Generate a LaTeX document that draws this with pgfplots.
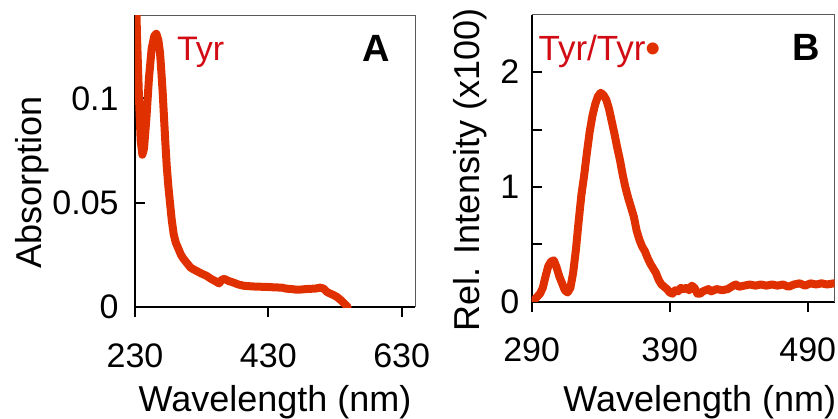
\documentclass[border=0pt]{standalone}
\usepackage{fontspec}
\setmainfont{Liberation Sans}
\usepackage{pgfplots}
\pgfplotsset{compat=1.18}
\definecolor{curve}{RGB}{224,48,0}
\definecolor{lab}{RGB}{210,12,20}

\pgfplotstableread{
x y
230 0.170
233 0.130
236 0.100
238.5 0.080
241 0.073
243.5 0.076
247 0.090
251 0.110
255 0.124
259 0.130
262 0.131
265 0.128
267.5 0.122
269.5 0.113
271.5 0.103
273.5 0.091
275.5 0.079
277.5 0.068
280 0.058
282.5 0.050
285 0.042
288 0.035
291 0.031
295 0.028
299 0.025
303 0.023
308 0.021
313 0.019
318 0.018
324 0.017
330 0.016
337 0.015
344 0.0135
350 0.0125
356 0.0113
360 0.0130
364 0.0135
370 0.0125
377 0.0118
385 0.0108
393 0.0102
400 0.0100
410 0.0098
420 0.0097
430 0.0096
440 0.0094
450 0.0093
457 0.0088
465 0.0086
472 0.0083
480 0.0084
490 0.0087
500 0.0088
508 0.0093
513 0.0088
518 0.0072
523 0.0064
528 0.0057
533 0.0048
538 0.0035
543 0.0020
549 0.0000
}\absdata

\pgfplotstableread{
x y
291 0.00
293 0.03
296 0.07
298 0.12
300 0.22
302 0.31
304 0.35
306 0.36
308 0.30
310 0.22
312 0.16
314 0.10
316 0.08
318 0.12
320 0.25
322 0.45
324 0.70
326 0.93
328 1.10
330 1.30
332 1.48
334 1.62
336 1.72
338 1.79
340 1.82
342 1.80
344 1.76
346 1.68
348 1.57
350 1.46
352 1.34
354 1.23
356 1.10
358 0.99
360 0.90
362 0.82
364 0.74
366 0.62
368 0.54
370 0.48
372 0.44
374 0.38
376 0.33
378 0.29
380 0.25
382 0.19
384 0.15
386 0.13
388 0.11
390 0.08
392 0.07
394 0.10
396 0.09
398 0.12
400 0.11
402 0.12
404 0.10
406 0.14
408 0.12
410 0.07
412 0.07
414 0.09
416 0.10
418 0.11
420 0.09
424 0.11
428 0.10
432 0.11
436 0.14
438 0.15
440 0.13
444 0.14
448 0.15
452 0.14
456 0.15
460 0.14
464 0.15
468 0.14
472 0.15
476 0.13
480 0.15
484 0.16
488 0.14
492 0.16
496 0.15
500 0.16
504 0.15
509 0.16
}\fludata

\pgfplotsset{
  panel/.style={
    scale only axis, clip mode=individual,
    axis x line=bottom, axis y line=left,
    axis line style={-, line width=1.2pt, black},
    xtick align=outside, ytick align=inside,
    major tick length=5pt, minor tick length=5pt,
    tick style={line width=1pt, black},
    ticklabel style={font=\fontsize{17}{20}\selectfont},
    xticklabel style={anchor=north, inner sep=0pt, yshift=-13pt},
    yticklabel style={anchor=east, inner sep=0pt},
    label style={font=\fontsize{18}{21}\selectfont},
  },
  spec/.style={curve, line width=4pt, line join=round, line cap=round},
}

\begin{document}
\begin{tikzpicture}
\useasboundingbox (-67.5pt,-55.5pt) rectangle (351.5pt,153.5pt);

\begin{axis}[panel, at={(0pt,0pt)}, anchor=south west,
  width=140pt, height=146pt,
  xmin=230, xmax=650, ymin=0, ymax=0.14,
  xtick={230,430,630}, xticklabels={230,430,630},
  ytick={0,0.05,0.1}, yticklabels={0,0.05,0.1},
  yticklabel style={xshift=-8pt},
  xlabel={Wavelength (nm)},
  xlabel style={at={(axis description cs:0.5,0)}, anchor=base, yshift=-52.4pt},
  ylabel={Absorption},
  ylabel style={at={([xshift=-46.7pt]axis description cs:0,0.428)}, anchor=base, rotate=0},
]
\draw[gray!70!black, line width=0.5pt] (rel axis cs:0,1) -- (rel axis cs:1,1) -- (rel axis cs:1,0);
\addplot[spec] table[x=x, y=y] {\absdata};
\end{axis}

\begin{axis}[panel, at={(198.35pt,2.65pt)}, anchor=south west,
  width=151.5pt, height=143.5pt,
  xmin=290, xmax=509.5, ymin=0, ymax=2.5,
  xtick={290,390,490}, xticklabels={290,390,490},
  ytick={0,1,2}, yticklabels={0,1,2}, minor ytick={0.5,1.5},
  yticklabel style={xshift=-6pt},
  xlabel={Wavelength (nm)},
  xlabel style={at={(axis description cs:0.555,0)}, anchor=base, yshift=-55pt},
  ylabel={Rel. Intensity (x100)},
  ylabel style={at={([xshift=-26.3pt]axis description cs:0,0.459)}, anchor=base, rotate=0},
]
\draw[gray!70!black, line width=0.5pt] (rel axis cs:0,1) -- (rel axis cs:1,1) -- (rel axis cs:1,0);
\addplot[spec] table[x=x, y=y] {\fludata};
\end{axis}

\node[anchor=base west, inner sep=0pt, text=lab, font=\fontsize{17}{20}\selectfont] at (20.8pt,123.5pt) {Tyr};
\node[anchor=base east, inner sep=0pt, font=\fontsize{19}{22}\selectfont\bfseries] at (127.5pt,122.7pt) {A};
\node[anchor=base west, inner sep=0pt, text=lab, font=\fontsize{17.5}{20}\selectfont] at (201.6pt,123.5pt) {Tyr/Tyr\raisebox{-2pt}{\color{curve}\fontsize{22}{20}\selectfont•}};
\node[anchor=base east, inner sep=0pt, font=\fontsize{19}{22}\selectfont\bfseries] at (342.5pt,123.5pt) {B};
\end{tikzpicture}
\end{document}
